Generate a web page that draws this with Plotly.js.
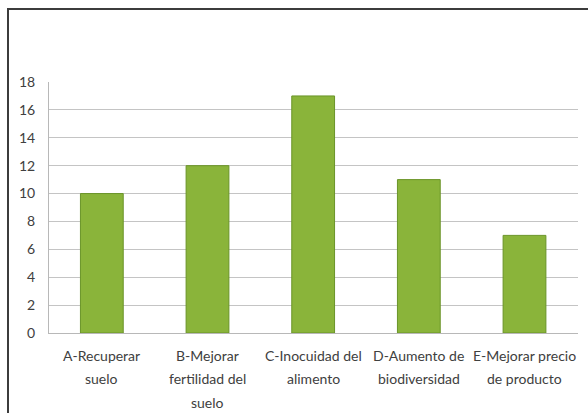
<!DOCTYPE html>
<html><head><meta charset="utf-8">
<script src="https://cdn.plot.ly/plotly-3.0.1.min.js"></script>
<style>
body{margin:0;padding:0;background:#fff;}
#wrap{position:relative;width:588px;height:413px;overflow:hidden;}
#chart{width:588px;height:413px;}
#frame{position:absolute;left:7px;top:8px;width:600px;height:420px;border:2px solid #3c3c3c;pointer-events:none;box-sizing:border-box;}
</style></head>
<body>
<div id="wrap"><div id="chart"></div><div id="frame"></div></div>
<script>
var categories = ["A-Recuperar suelo", "B-Mejorar fertilidad del suelo", "C-Inocuidad del alimento", "D-Aumento de biodiversidad", "E-Mejorar precio de producto"];
var labelLines = [
  ["A-Recuperar", "suelo"],
  ["B-Mejorar", "fertilidad del", "suelo"],
  ["C-Inocuidad del", "alimento"],
  ["D-Aumento de", "biodiversidad"],
  ["E-Mejorar precio", "de producto"]
];
var values = [10, 12, 17, 11, 7];
var yTicks = [0, 2, 4, 6, 8, 10, 12, 14, 16, 18];

var FONT = "Lato, 'Open Sans', sans-serif";
var trace = {
  type: "bar",
  x: categories,
  y: values,
  marker: {color: "#8ab43a", line: {color: "#6a9428", width: 1}},
  hoverinfo: "skip"
};

var annotations = [];
categories.forEach(function (c, i) {
  labelLines[i].forEach(function (ln, j) {
    annotations.push({
      x: c, y: 0, xref: "x", yref: "y",
      text: ln, showarrow: false,
      xanchor: "center", yanchor: "middle",
      yshift: -(22 + 23.5 * j),
      font: {family: FONT, size: 14, color: "#404040"}
    });
  });
});

var layout = {
  width: 588, height: 413,
  margin: {l: 49, r: 10, t: 82, b: 80},
  paper_bgcolor: "#ffffff",
  plot_bgcolor: "#ffffff",
  bargap: 0.595,
  showlegend: false,
  font: {family: FONT, size: 14, color: "#404040"},
  annotations: annotations,
  xaxis: {
    type: "category",
    categoryarray: categories,
    showgrid: false,
    showline: true, linecolor: "#b8b8b8", linewidth: 1,
    ticks: "", showticklabels: false
  },
  yaxis: {
    range: [0, 18],
    tickvals: yTicks,
    ticktext: yTicks.map(String),
    showgrid: true, gridcolor: "#c4c4c4", gridwidth: 1,
    zeroline: false,
    showline: true, linecolor: "#b8b8b8", linewidth: 1,
    ticks: "", ticklabelstandoff: 10,
    tickfont: {family: FONT, size: 14, color: "#404040"}
  }
};
Plotly.newPlot("chart", [trace], layout, {displayModeBar: false, staticPlot: true});
</script>
</body></html>
